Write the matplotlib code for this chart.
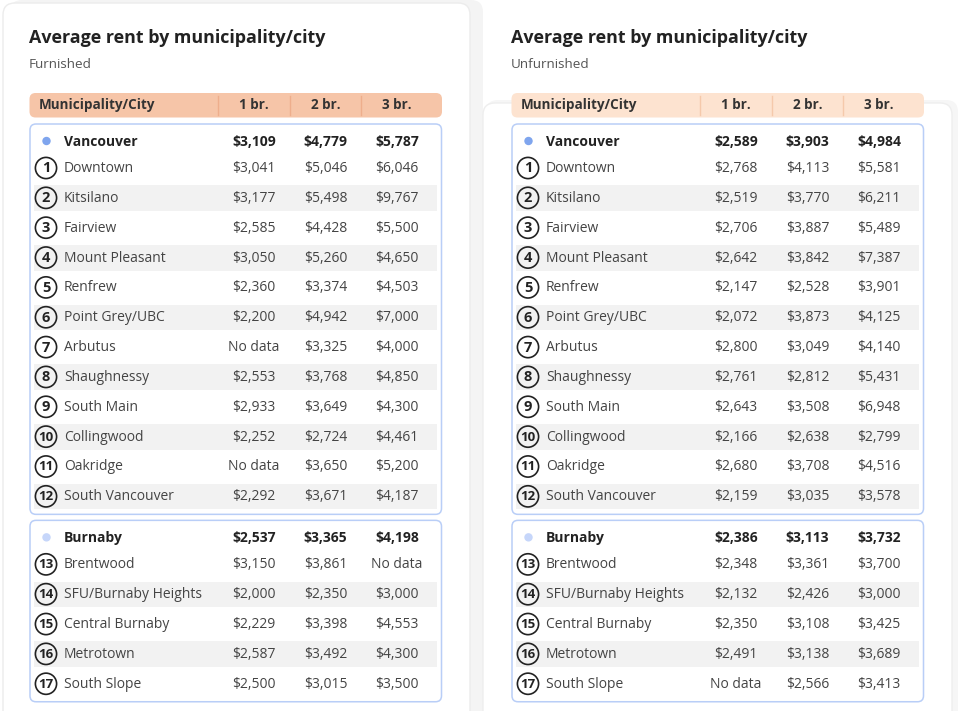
import matplotlib.pyplot as plt
from matplotlib.patches import FancyBboxPatch, Circle, Rectangle

plt.rcParams['font.family'] = ['Open Sans', 'DejaVu Sans']

# data
cities = ["Vancouver", "Burnaby"]
city_sizes = [12, 5]
areas = ["Downtown", "Kitsilano", "Fairview", "Mount Pleasant", "Renfrew",
         "Point Grey/UBC", "Arbutus", "Shaughnessy", "South Main", "Collingwood",
         "Oakridge", "South Vancouver",
         "Brentwood", "SFU/Burnaby Heights", "Central Burnaby", "Metrotown", "South Slope"]
columns = ["1 br.", "2 br.", "3 br."]

furn_city_1br = [3109, 2537]
furn_city_2br = [4779, 3365]
furn_city_3br = [5787, 4198]
furn_1br = [3041, 3177, 2585, 3050, 2360, 2200, None, 2553, 2933, 2252, None, 2292,
            3150, 2000, 2229, 2587, 2500]
furn_2br = [5046, 5498, 4428, 5260, 3374, 4942, 3325, 3768, 3649, 2724, 3650, 3671,
            3861, 2350, 3398, 3492, 3015]
furn_3br = [6046, 9767, 5500, 4650, 4503, 7000, 4000, 4850, 4300, 4461, 5200, 4187,
            None, 3000, 4553, 4300, 3500]

unf_city_1br = [2589, 2386]
unf_city_2br = [3903, 3113]
unf_city_3br = [4984, 3732]
unf_1br = [2768, 2519, 2706, 2642, 2147, 2072, 2800, 2761, 2643, 2166, 2680, 2159,
           2348, 2132, 2350, 2491, None]
unf_2br = [4113, 3770, 3887, 3842, 2528, 3873, 3049, 2812, 3508, 2638, 3708, 3035,
           3361, 2426, 3108, 3138, 2566]
unf_3br = [5581, 6211, 5489, 7387, 3901, 4125, 4140, 5431, 6948, 2799, 4516, 3578,
           3700, 3000, 3425, 3689, 3413]

panels = [
    ("Furnished", [furn_city_1br, furn_city_2br, furn_city_3br], [furn_1br, furn_2br, furn_3br],
     "#f6c5a8", "#eeae8c"),
    ("Unfurnished", [unf_city_1br, unf_city_2br, unf_city_3br], [unf_1br, unf_2br, unf_3br],
     "#fde3d0", "#f5c9ab"),
]
dot_colors = ["#7fa5ee", "#c6d6fa"]


def fmt(v):
    return "No data" if v is None else f"${v:,}"


fig = plt.figure(figsize=(9.6, 7.11), dpi=100)
ax = fig.add_axes([0, 0, 1, 1])
ax.set_xlim(0, 960)
ax.set_ylim(711, 0)
ax.axis("off")

# cards with soft shadows
ax.add_patch(FancyBboxPatch((10, 0), 473, 740, boxstyle="round,pad=0,rounding_size=12",
                            fc="#f4f4f4", ec="none"))
ax.add_patch(FancyBboxPatch((3, 3), 467, 740, boxstyle="round,pad=0,rounding_size=12",
                            fc="white", ec="#ececec", lw=1))
ax.add_patch(FancyBboxPatch((486, 100), 472, 640, boxstyle="round,pad=0,rounding_size=12",
                            fc="#f6f6f6", ec="none"))
ax.add_patch(FancyBboxPatch((483, 103), 469, 640, boxstyle="round,pad=0,rounding_size=12",
                            fc="white", ec="#eeeeee", lw=1))

col_x = [254, 325.5, 397]
sep_x = [218, 289.5, 361]
row_step = 29.85

for p, (subtitle, city_vals, area_vals, head_col, sep_col) in enumerate(panels):
    dx = 482 * p
    ax.text(29 + dx, 38, "Average rent by municipality/city", fontsize=12.9,
            fontweight="bold", color="#222222", va="center", ha="left")
    ax.text(29 + dx, 64, subtitle, fontsize=9.7, color="#555555", va="center", ha="left")

    # header bar
    ax.add_patch(FancyBboxPatch((29.5 + dx, 93), 412.5, 24.5,
                                boxstyle="round,pad=0,rounding_size=6", fc=head_col, ec="none"))
    for sx in sep_x:
        ax.plot([sx + dx, sx + dx], [96, 115], color=sep_col, lw=1)
    ax.text(39 + dx, 105, "Municipality/City", fontsize=9.75, fontweight="bold",
            color="#333333", va="center", ha="left")
    for cx, lab in zip(col_x, columns):
        ax.text(cx + dx, 105, lab, fontsize=9.75, fontweight="bold", color="#333333",
                va="center", ha="center")

    start = 0
    head_y = 141
    for c, city in enumerate(cities):
        n = city_sizes[c]
        last_y = head_y + 27 + (n - 1) * row_step
        ax.add_patch(FancyBboxPatch((30 + dx, head_y - 17), 411.5, last_y + 18 - (head_y - 17),
                                    boxstyle="round,pad=0,rounding_size=6",
                                    fc="white", ec="#b9cef7", lw=1.1, zorder=2))
        ax.add_patch(Circle((46.5 + dx, head_y), 4.2, fc=dot_colors[c], ec="none", zorder=3))
        ax.text(64 + dx, head_y + 0.5, city, fontsize=10, fontweight="bold", color="#222222",
                va="center", ha="left", zorder=4)
        for cx, vals in zip(col_x, city_vals):
            ax.text(cx + dx, head_y + 0.5, fmt(vals[c]), fontsize=10, fontweight="bold",
                    color="#222222", va="center", ha="center", zorder=4)
        for i in range(n):
            k = start + i
            y = head_y + 27 + i * row_step
            if i % 2 == 1:
                ax.add_patch(Rectangle((34 + dx, y - 12.5), 403, 25.5, fc="#f2f2f2",
                                       ec="none", zorder=3))
            ax.add_patch(Circle((46 + dx, y), 10.6, fc="none", ec="#222222", lw=1.2, zorder=4))
            ax.text(46 + dx, y + 0.5, str(k + 1), fontsize=10.5 if k < 9 else 9.5,
                    fontweight="bold", color="#222222", va="center", ha="center", zorder=5)
            ax.text(64 + dx, y + 0.5, areas[k], fontsize=10, color="#444444",
                    va="center", ha="left", zorder=5)
            for cx, vals in zip(col_x, area_vals):
                ax.text(cx + dx, y + 0.5, fmt(vals[k]), fontsize=10, color="#444444",
                        va="center", ha="center", zorder=5)
        start += n
        head_y = last_y + 41

fig.savefig("out.png", dpi=100, facecolor="white")
